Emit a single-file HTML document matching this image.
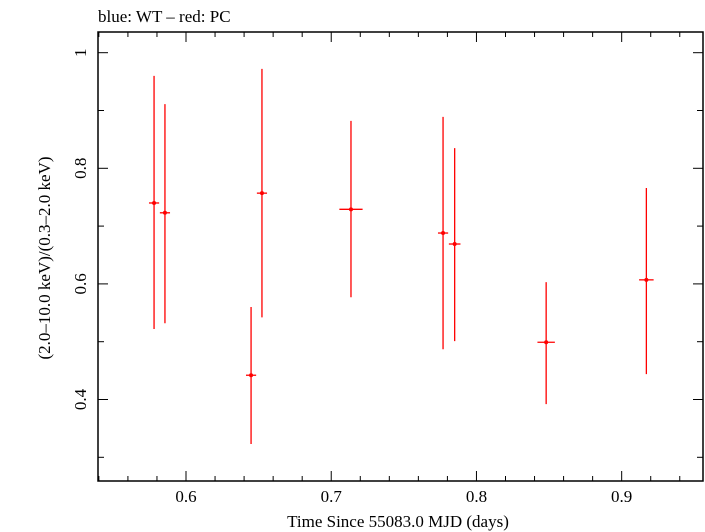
<!DOCTYPE html>
<html><head><meta charset="utf-8"><style>html,body{margin:0;padding:0;background:#fff}svg{display:block}</style></head>
<body>
<svg id="chart" width="705" height="532" xmlns="http://www.w3.org/2000/svg" font-family="Liberation Serif, serif">
<text x="98" y="22" font-size="17">blue: WT – red: PC</text>
<rect x="98" y="32" width="605" height="449" fill="none" stroke="#000" stroke-width="1.5"/>
<g id="ticks"></g>
<g id="marks"></g>
<text x="398" y="527" font-size="17" text-anchor="middle">Time Since 55083.0 MJD (days)</text>
<text transform="translate(50,258) rotate(-90)" font-size="17" text-anchor="middle">(2.0–10.0 keV)/(0.3–2.0 keV)</text>
</svg>
<script>
const times = [0.578, 0.5855, 0.6448, 0.6523, 0.7136, 0.777, 0.785, 0.848, 0.917];
const timeErr = [0.0035, 0.0035, 0.0035, 0.0035, 0.008, 0.0035, 0.004, 0.006, 0.005];
const ratios = [0.740, 0.723, 0.442, 0.757, 0.729, 0.688, 0.669, 0.499, 0.607];
const ratioHi = [0.960, 0.911, 0.560, 0.972, 0.882, 0.889, 0.835, 0.603, 0.766];
const ratioLo = [0.522, 0.532, 0.323, 0.542, 0.577, 0.487, 0.501, 0.392, 0.444];
const xTickLabels = ["0.6", "0.7", "0.8", "0.9"];
const yTickLabels = ["0.4", "0.6", "0.8", "1"];

const L=98,R=703,T=32,B=481;
const xMin=0.5394,xMax=0.956,yMin=0.259,yMax=1.0358;
const sx=v=>L+(v-xMin)/(xMax-xMin)*(R-L);
const sy=v=>B-(v-yMin)/(yMax-yMin)*(B-T);
const NS="http://www.w3.org/2000/svg";
function mk(tag,attrs,parent){const e=document.createElementNS(NS,tag);for(const k in attrs)e.setAttribute(k,attrs[k]);parent.appendChild(e);return e;}
const tg=document.getElementById('ticks');
for(let i=28;i<=94;i+=2){const v=i/100;if(v<xMin||v>xMax)continue;const x=sx(v);const major=i%10===0;const len=major?10:5;
 let l=mk('line',{x1:x,x2:x,y1:B,y2:B-len,stroke:'#000','stroke-width':1},tg);
 
 l=mk('line',{x1:x,x2:x,y1:T,y2:T+len,stroke:'#000','stroke-width':1},tg);
 }
xTickLabels.forEach(s=>{const t=mk('text',{x:sx(parseFloat(s)),y:B+21,'font-size':17,'text-anchor':'middle'},tg);t.textContent=s;
 });
for(let i=3;i<=10;i++){const v=i/10;if(v<yMin||v>yMax)continue;const y=sy(v);const major=i%2===0;const len=major?10:6;
 let l=mk('line',{x1:L,x2:L+len,y1:y,y2:y,stroke:'#000','stroke-width':1},tg);
 
 l=mk('line',{x1:R,x2:R-len,y1:y,y2:y,stroke:'#000','stroke-width':1},tg);
 }
yTickLabels.forEach(s=>{const y=sy(parseFloat(s));const t=mk('text',{transform:`translate(86,${y}) rotate(-90)`,'font-size':17,'text-anchor':'middle'},tg);t.textContent=s;
 });
const mg=document.getElementById('marks');
times.forEach((t,i)=>{const g=mk('g',{},mg);
 
 mk('line',{x1:sx(t),x2:sx(t),y1:sy(ratioHi[i]),y2:sy(ratioLo[i]),stroke:'#f00','stroke-width':1.3},g);
 mk('line',{x1:sx(t-timeErr[i]),x2:sx(t+timeErr[i]),y1:sy(ratios[i]),y2:sy(ratios[i]),stroke:'#f00','stroke-width':1.3},g);
 mk('circle',{cx:sx(t),cy:sy(ratios[i]),r:2,fill:'#f00'},g);});
</script>
</body></html>
